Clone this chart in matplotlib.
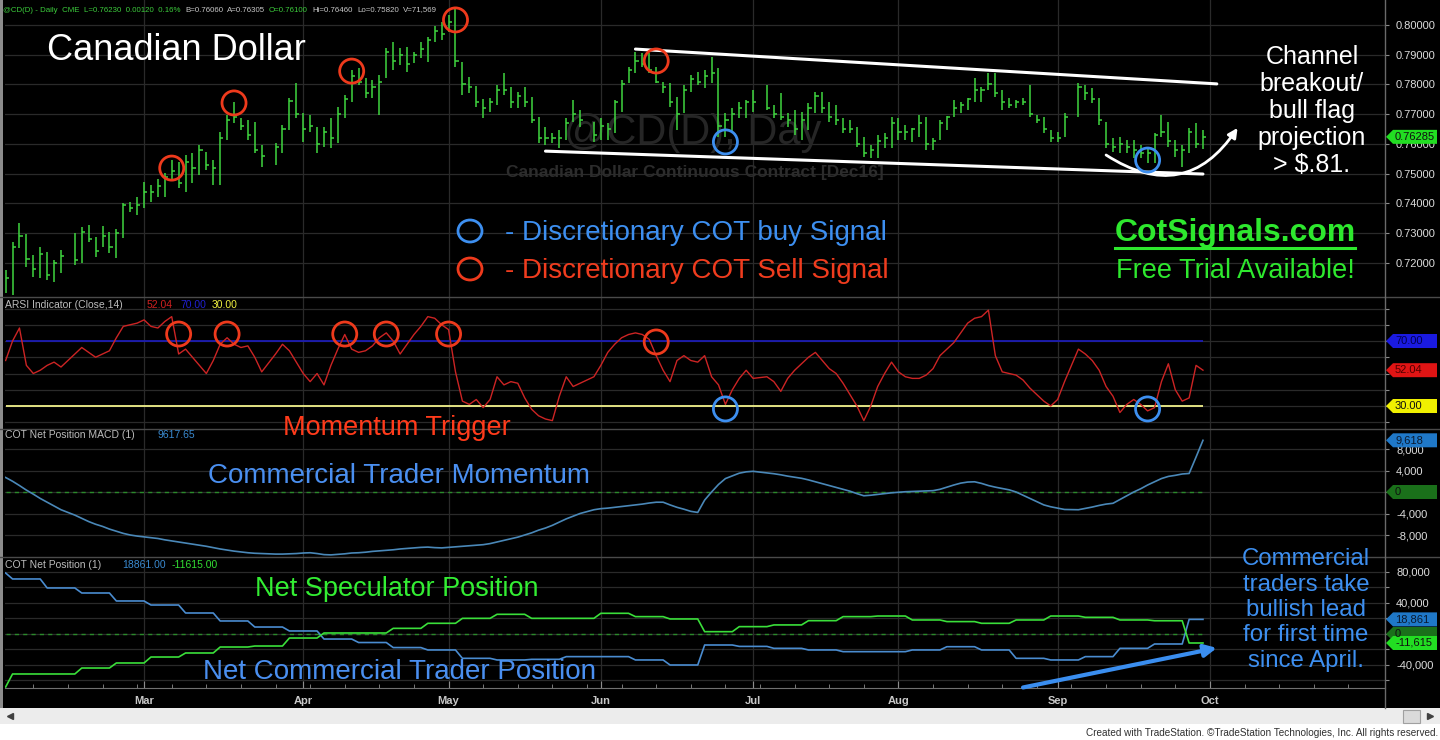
import numpy as np
import pandas as pd
import matplotlib
matplotlib.use('Agg')
import matplotlib.pyplot as plt
from matplotlib import font_manager
from matplotlib.patches import FancyArrowPatch, Rectangle, Ellipse, Polygon
from matplotlib.ticker import FuncFormatter

plt.rcParams['font.family'] = ['Liberation Sans', 'DejaVu Sans']
installed = {f.name for f in font_manager.fontManager.ttflist}
NARROW = 'Liberation Sans Narrow' if 'Liberation Sans Narrow' in installed else 'Liberation Sans'

# ---------------- data ----------------
holidays = ['2016-02-15', '2016-03-25', '2016-05-30', '2016-07-04', '2016-09-05']
month_labels = ['Mar', 'Apr', 'May', 'Jun', 'Jul', 'Aug', 'Sep', 'Oct']
month_firsts = ['2016-03-01', '2016-04-01', '2016-05-02', '2016-06-01',
                '2016-07-01', '2016-08-01', '2016-09-01', '2016-10-03']

# daily bars, Feb 2 - Sep 30 2016 (one line per month)
high = [
    .7176, .7271, .7334, .7297, .7227, .7254, .7237, .7210, .7244, .7301, .7321, .7328, .7287, .7324, .7304, .7314, .7402, .7405, .7422,
    .7472, .7462, .7482, .7503, .7546, .7539, .7563, .7570, .7597, .7573, .7546, .7640, .7697, .7741, .7687, .7681, .7674, .7597, .7603, .7664, .7755, .7805,
    .7704, .7697, .7657, .7657, .7687, .7724, .7765, .7849, .7855, .7822, .7815, .7832, .7923, .7943, .7923, .7926, .7909, .7943, .7960, .7997, .8010,
    .8034, .8061, .7876, .7825, .7795, .7751, .7755, .7798, .7839, .7792, .7775, .7792, .7758, .7691, .7657, .7637, .7647, .7687, .7748, .7714, .7674,
    .7687, .7671, .7748, .7815, .7859, .7909, .7906, .7906, .7859, .7808, .7805, .7758, .7798, .7832, .7842, .7849, .7892, .7855, .7704, .7721, .7741, .7748,
    .7782, .7798, .7731, .7771, .7704, .7714, .7708, .7738, .7775, .7775, .7741, .7731, .7687, .7681, .7657, .7624, .7597, .7630, .7637, .7691,
    .7687, .7664, .7654, .7697, .7691, .7620, .7681, .7694, .7748, .7741, .7755, .7822, .7792, .7839, .7839, .7782, .7755, .7748, .7755, .7798, .7697, .7691, .7647,
    .7640, .7704, .7805, .7798, .7788, .7755, .7674, .7620, .7624, .7613, .7613, .7597, .7590, .7637, .7697, .7674, .7613, .7597, .7654, .7671, .7646,
]
low = [
    .7099, .7092, .7251, .7187, .7153, .7150, .7143, .7136, .7166, .7193, .7200, .7271, .7220, .7254, .7234, .7217, .7284, .7371, .7361,
    .7385, .7405, .7422, .7422, .7479, .7452, .7439, .7469, .7496, .7513, .7462, .7462, .7613, .7671, .7647, .7613, .7570, .7523, .7529, .7570, .7647, .7687,
    .7607, .7640, .7570, .7590, .7587, .7603, .7687, .7741, .7798, .7755, .7755, .7697, .7822, .7849, .7866, .7842, .7872, .7889, .7876, .7943, .7950,
    .7976, .7859, .7765, .7771, .7724, .7687, .7708, .7731, .7765, .7721, .7721, .7724, .7671, .7603, .7597, .7603, .7587, .7613, .7674, .7657, .7607,
    .7613, .7613, .7637, .7708, .7805, .7839, .7859, .7839, .7805, .7771, .7724, .7647, .7704, .7775, .7798, .7788, .7805, .7624, .7624, .7640, .7687, .7687,
    .7708, .7714, .7687, .7681, .7657, .7630, .7613, .7647, .7704, .7704, .7674, .7664, .7637, .7637, .7590, .7556, .7553, .7553, .7587, .7587,
    .7613, .7613, .7607, .7624, .7580, .7580, .7613, .7647, .7691, .7704, .7714, .7741, .7741, .7782, .7758, .7714, .7721, .7721, .7731, .7691, .7671, .7637, .7607,
    .7607, .7624, .7691, .7748, .7738, .7664, .7587, .7573, .7570, .7570, .7553, .7553, .7536, .7536, .7624, .7590, .7556, .7523, .7570, .7587, .7582,
]
close = [
    .7150, .7255, .7290, .7215, .7180, .7230, .7160, .7200, .7225, .7210, .7305, .7280, .7240, .7290, .7255, .7300, .7395, .7385, .7395,
    .7440, .7440, .7460, .7490, .7510, .7470, .7540, .7520, .7580, .7530, .7520, .7620, .7680, .7690, .7660, .7630, .7580, .7560, .7590, .7650, .7745, .7700,
    .7650, .7660, .7600, .7640, .7620, .7700, .7750, .7830, .7810, .7770, .7790, .7810, .7910, .7880, .7900, .7870, .7900, .7920, .7950, .7980, .7970,
    .8010, .7880, .7800, .7790, .7740, .7720, .7740, .7780, .7780, .7740, .7760, .7740, .7680, .7620, .7620, .7620, .7620, .7670, .7700, .7680, .7630,
    .7660, .7650, .7740, .7800, .7850, .7880, .7870, .7850, .7810, .7790, .7740, .7700, .7780, .7820, .7810, .7830, .7840, .7660, .7680, .7700, .7720, .7740,
    .7740, .7720, .7700, .7690, .7680, .7650, .7680, .7720, .7760, .7720, .7690, .7680, .7650, .7650, .7600, .7570, .7580, .7610, .7620, .7670,
    .7640, .7640, .7650, .7670, .7600, .7610, .7670, .7690, .7720, .7730, .7750, .7780, .7780, .7800, .7770, .7740, .7730, .7740, .7740, .7700, .7680, .7650, .7620,
    .7620, .7690, .7790, .7770, .7750, .7680, .7600, .7590, .7600, .7590, .7580, .7570, .7570, .7630, .7640, .7610, .7580, .7580, .7640, .7600, .7623,
]
arsi = [
    58, 70, 78, 55, 50, 52, 55, 57, 54, 62, 66, 63, 60, 62, 64, 72, 79, 80, 81,
    83, 79, 78, 82, 85, 62, 65, 60, 55, 50, 58, 68, 72, 68, 66, 67, 60, 51, 62, 68, 64, 57,
    50, 45, 50, 43, 55, 65, 74, 65, 63, 64, 67, 72, 75, 70, 62, 68, 74, 79, 85, 84, 80,
    77, 51, 33, 31, 34, 29, 34, 48, 43, 45, 44, 35, 28, 24, 22, 21, 36, 48, 42, 44, 48,
    55, 63, 68, 72, 74, 75, 74, 71, 61, 52, 45, 58, 61, 58, 57, 61, 48, 43, 31, 40, 47, 52,
    47, 48, 45, 39, 47, 52, 56, 60, 63, 58, 53, 50, 44, 37, 30, 21, 30, 42, 50, 57,
    51, 48, 47, 47, 49, 53, 61, 65, 69, 75, 81, 84, 85, 89, 61, 51, 50, 49, 46, 41, 37, 33, 30,
    34, 45, 65, 62, 58, 52, 42, 36, 26, 31, 34, 31, 27, 29, 45, 56, 40, 33, 35, 55, 52.04,
]
macd = [
    2700, 2000, 1200, 350, -400, -1200, -1900, -2600, -3300, -4300, -4900, -5500, -6000, -6400, -6900, -7300, -7700, -8000, -8200,
    -8350, -8500, -8650, -8900, -9100, -9300, -9500, -9700, -9900, -10100, -10350, -10600, -10800, -11000, -11150, -11300, -11400, -11450, -11550, -11550, -11500, -11450,
    -11350, -11300, -11450, -11650, -11700, -11600, -11500, -11350, -11300, -11200, -11050, -10950, -10850, -10750, -10600, -10500, -10400, -10300, -10250, -10350, -10400,
    -10300, -10200, -10100, -10000, -9900, -9800, -9600, -9300, -9000, -8700, -8400, -8000, -7600, -7100, -6700, -6200, -5600, -5000, -4500, -4000, -3300,
    -3100, -3000, -2850, -2700, -2550, -2400, -2250, -2050, -1900, -1900, -2400, -2850, -3200, -3600, -3800, -1500, 0, 1400, 2500, 3000, 3500, 3750,
    3850, 3550, 3400, 3200, 2950, 2750, 2550, 2250, 1900, 1550, 1200, 850, 500, 150, -300, -700, -600, -450, -300, -150,
    -50, 50, 100, 150, 200, 250, 500, 900, 1300, 1650, 1850, 1900, 1600, 1200, 900, 650, 400, 0, -600, -1200, -1800, -2400, -2750,
    -3000, -3250, -3300, -3050, -2800, -2500, -2250, -2100, -1400, -700, 0, 600, 1300, 1900, 2500, 2900, 3100, 3350, 3450, 6500, 9617.65,
]
# weekly COT net positions (new value each Wednesday)
comm_weekly = [78700, 71000, 59400, 52900, 42600, 37400, 27100, 16800, 9000, 3900, -6500, -11000,
               -17500, -20600, -31400, -33500, -32700, -29200, -29200, -33500, -40000, -14200, -16000, -18500,
               -20600, -22800, -22800, -20600, -16400, -20600, -31400, -33500, -29200, -18500, -12900, 18861]
spec_weekly = [-68400, -51600, -51600, -43900, -37400, -29700, -24500, -16800, -15500, -5200, 1300, 1300,
               7300, 13800, 20200, 25400, 20200, 20200, 26700, 22400, 19400, 3000, 9500, 11700,
               17200, 22400, 23200, 18100, 16000, 13800, 18100, 23200, 21500, 18100, 17100, -11615]

price_ticks = [0.72, 0.73, 0.74, 0.75, 0.76, 0.77, 0.78, 0.79, 0.80]
arsi_ticks = [20, 30, 40, 50, 60, 70, 80, 90]
macd_ticks = [-8000, -4000, 0, 4000, 8000]
cot_ticks = [-60000, -40000, -20000, 0, 20000, 40000, 60000, 80000]

# discretionary signals (date, level)
sell_price = [('2016-03-07', 0.7519), ('2016-03-18', 0.7738), ('2016-04-12', 0.7845),
              ('2016-05-03', 0.8017), ('2016-06-13', 0.7879)]
buy_price = [('2016-06-27', 0.7607), ('2016-09-20', 0.7546)]
sell_arsi = [('2016-03-08', 74.3), ('2016-03-17', 74.3), ('2016-04-11', 74.3),
             ('2016-04-19', 74.3), ('2016-05-02', 74.3), ('2016-06-13', 69.4)]
buy_arsi = [('2016-06-27', 28.2), ('2016-09-20', 28.2)]
channel_upper = [('2016-06-08', 0.7919), ('2016-10-04', 0.7802)]
channel_lower = [('2016-05-20', 0.7576), ('2016-09-30', 0.7499)]
flag_curve = [('2016-09-12', 0.7563), ('2016-10-07', 0.7654)]
lead_arrow = [('2016-08-25', -69000), ('2016-10-04', -18000)]

# ---------------- layout ----------------
W, H = 1440, 740
cal = pd.bdate_range('2016-02-02', '2016-10-31')
days = cal[~cal.isin(pd.to_datetime(holidays))]
days = days[days <= '2016-09-30']
x = cal.get_indexer(days)
month_pos = cal.get_indexer(pd.to_datetime(month_firsts))
monday_pos = np.where(cal.weekday == 0)[0]
week_id = pd.factorize(days.to_period('W-TUE'))[0]
comm = np.array(comm_weekly)[week_id]
spec = np.array(spec_weekly)[week_id]


def xp(d):
    return cal.get_loc(pd.Timestamp(d))


XL = (-0.09, 199.3)
BAR = '#3fd63f'
BLUE_TXT = '#3d8ff0'
GREEN_TXT = '#33ee33'

fig = plt.figure(figsize=(W / 100, H / 100), dpi=100, facecolor='black')


def panel(top, bottom, ylim, ticks):
    ax = fig.add_axes([5 / W, 1 - bottom / H, 1380 / W, (bottom - top) / H])
    ax.set_facecolor('black')
    ax.set_xlim(*XL)
    ax.set_ylim(*ylim)
    for s in ax.spines.values():
        s.set_visible(False)
    ax.set_axisbelow(True)
    ax.yaxis.tick_right()
    ax.set_yticks(ticks)
    ax.tick_params(axis='y', which='both', colors='#8c8c8c', labelcolor='#dcdcdc',
                   labelsize=8, length=3, pad=5)
    ax.tick_params(axis='x', which='both', length=0, labelbottom=False)
    ax.set_xticks(month_pos)
    ax.grid(True, color='#2a2a2a', lw=0.9)
    return ax


def rings(ax, sigs, color):
    ax.scatter([xp(d) for d, _ in sigs], [v for _, v in sigs], s=300, facecolors='none',
               edgecolors=color, linewidths=2, zorder=6, clip_on=False)


# price panel
axp = panel(0, 297, (0.70857, 0.80840), price_ticks)
axp.yaxis.set_major_formatter(FuncFormatter(lambda v, p: f'{v:.5f}'))
axp.vlines(x, low, high, color=BAR, lw=1.1, zorder=3)
axp.hlines(close, x, x + 0.45, color=BAR, lw=1.1, zorder=3)
axp.text(693 / W, 1 - 133 / H, '@CD(D), Day', transform=fig.transFigure, ha='center', va='center',
         fontsize=30, color='#262626', zorder=1)
axp.text(695 / W, 1 - 173 / H, 'Canadian Dollar Continuous Contract [Dec16]', transform=fig.transFigure,
         ha='center', va='center', fontsize=12.5, fontweight='bold', color='#2c2c2c', zorder=1)
for seg in (channel_upper, channel_lower):
    axp.plot([xp(d) for d, _ in seg], [v for _, v in seg], color='white', lw=2.2, zorder=5,
             solid_capstyle='round', clip_on=False)
curve = FancyArrowPatch((xp(flag_curve[0][0]), flag_curve[0][1]), (xp(flag_curve[1][0]), flag_curve[1][1]),
                        connectionstyle='arc3,rad=0.49', arrowstyle='-|>', mutation_scale=14,
                        color='white', lw=2, shrinkA=0, shrinkB=0, zorder=5, clip_on=False)
axp.add_patch(curve)
rings(axp, sell_price, '#ee3a1c')
rings(axp, buy_price, '#3d8ff0')

# ARSI panel
axr = panel(297, 429, (15.85, 97.08), arsi_ticks)
axr.tick_params(axis='y', labelright=False)
axr.hlines(70, x[0], x[-1], color='#1c1cb4', lw=1.3, zorder=3)
axr.hlines(30, x[0], x[-1], color='#f2f28c', lw=1.3, zorder=3)
axr.plot(x, arsi, color='#cc2424', lw=1, zorder=4)
rings(axr, sell_arsi, '#ee3a1c')
rings(axr, buy_arsi, '#3d8ff0')

# MACD panel
axm = panel(429, 557, (-12093, 11721), macd_ticks)
axm.yaxis.set_major_formatter(FuncFormatter(lambda v, p: f'{v:,.0f}'))
axm.plot([x[0], x[-1]], [0, 0], color='#2a8a2a', lw=1, ls=(0, (3, 3)), zorder=3)
axm.plot(x, macd, color='#4a88b8', lw=1.2, zorder=4)

# COT panel
axc = panel(557, 688, (-69680, 99350), cot_ticks)
axc.yaxis.set_major_formatter(FuncFormatter(lambda v, p: f'{v:,.0f}' if v % 40000 == 0 else ''))
axc.plot([x[0], x[-1]], [0, 0], color='#2a8a2a', lw=1, ls=(0, (3, 3)), zorder=3)
axc.plot(x, comm, color='#4a8cd0', lw=1.2, zorder=4)
axc.plot(x, spec, color='#3adf3a', lw=1.2, zorder=4)
axc.spines['bottom'].set_visible(True)
axc.spines['bottom'].set_color('#707070')
axc.set_xticks(monday_pos, minor=True)
axc.set_xticklabels(month_labels, fontweight='bold')
axc.tick_params(axis='x', which='major', labelbottom=True, labelcolor='#c8c8c8', labelsize=8,
                length=5, direction='in', color='#8c8c8c', pad=6)
axc.tick_params(axis='x', which='minor', length=3, direction='in', color='#8c8c8c')
lead = FancyArrowPatch((xp(lead_arrow[0][0]), lead_arrow[0][1]), (xp(lead_arrow[1][0]), lead_arrow[1][1]),
                       arrowstyle='-|>', mutation_scale=18, color='#3a8ef0', lw=3,
                       shrinkA=0, shrinkB=0, zorder=6, clip_on=False)
axc.add_patch(lead)

# ---------------- overlay (chrome and captions, pixel coords) ----------------
ov = fig.add_axes([0, 0, 1, 1], zorder=10)
ov.set_xlim(0, W)
ov.set_ylim(H, 0)
ov.axis('off')
ov.patch.set_alpha(0)

for yy in (297, 429, 557):
    ov.plot([0, W], [yy, yy], color='#4a4a4a', lw=1)
ov.plot([1385, 1385], [0, 708], color='#6a6a6a', lw=1)
ov.add_patch(Rectangle((0, 0), 3, 708, fc='#8c8c8c', ec='none'))
ov.add_patch(Rectangle((0, 708), W, 16, fc='#ececec', ec='none'))
ov.add_patch(Rectangle((0, 724), W, 16, fc='white', ec='none'))
ov.add_patch(Rectangle((1403, 710), 17, 13, fc='#dadada', ec='#a0a0a0', lw=0.8))
ov.plot(10, 716, marker='<', ms=4, color='#404040')
ov.plot(1430, 716, marker='>', ms=4, color='#404040')
ov.text(1438, 733, 'Created with TradeStation. \u00a9TradeStation Technologies, Inc. All rights reserved.',
        ha='right', va='center', fontsize=7.2, color='#303030')


def tag(ax, val, label, fc, tc='#101010'):
    # value marker on the right scale, placed at the value through the panel's own scale
    y = H - ax.transData.transform((0, val))[1]
    ov.add_patch(Polygon([(1386, y), (1393, y - 7), (1437, y - 7), (1437, y + 7), (1393, y + 7)],
                         closed=True, fc=fc, ec='none', zorder=5))
    ov.text(1395, y, label, ha='left', va='center', fontsize=8, color=tc, zorder=6)


tag(axp, 0.7624, '0.76285', '#22dd22')
tag(axr, 70, '70.00', '#1a1ae0', '#000050')
tag(axr, 52.04, '52.04', '#e01414', '#500000')
tag(axr, 30, '30.00', '#f0f000')
tag(axm, 0, '0', '#1a701a')
tag(axm, 9617.65, '9,618', '#1f78c8', '#0a1a30')
tag(axc, 0, '0', '#1a701a')
tag(axc, 18861, '18,861', '#1f78c8', '#0a1a30')
tag(axc, -11615, '-11,615', '#22dd22')

hdr = [(3, '@CD(D) - Daily  CME  L=0.76230  0.00120  0.16%', '#3ccc3c'),
       (185, 'B=0.76060', '#c8c8c8'), (227, 'A=0.76305', '#c8c8c8'), (269, 'O=0.76100', '#3ccc3c'),
       (312, 'Hi=0.76460', '#c8c8c8'), (357, 'Lo=0.75820', '#c8c8c8'), (403, 'V=71,569', '#c8c8c8')]
hdr_size = 7 if NARROW != 'Liberation Sans' else 5.7
for hx, s, c in hdr:
    ov.text(hx, 10, s, ha='left', va='center', fontsize=hdr_size, color=c, family=NARROW)

ov.text(5, 305, 'ARSI Indicator (Close,14)', ha='left', va='center', fontsize=7.5, color='#bcbcbc')
ov.text(147, 305, '52.04', ha='left', va='center', fontsize=7.5, color='#d02020')
ov.text(180, 305, '70.00', ha='left', va='center', fontsize=7.5, color='#2020d0')
ov.text(212, 305, '30.00', ha='left', va='center', fontsize=7.5, color='#f0f040')
ov.text(5, 435, 'COT Net Position MACD (1)', ha='left', va='center', fontsize=7.5, color='#bcbcbc')
ov.text(157, 435, '9617.65', ha='left', va='center', fontsize=7.5, color='#3a8ad0')
ov.text(5, 565, 'COT Net Position (1)', ha='left', va='center', fontsize=7.5, color='#bcbcbc')
ov.text(122, 565, '18861.00', ha='left', va='center', fontsize=7.5, color='#3a8ad0')
ov.text(172, 565, '-11615.00', ha='left', va='center', fontsize=7.5, color='#33dd33')

ov.text(47, 50, 'Canadian Dollar', ha='left', va='center', fontsize=26, color='white')
ov.add_patch(Ellipse((470, 231), 24, 22, fc='none', ec='#3d8ff0', lw=2))
ov.add_patch(Ellipse((470, 269), 24, 22, fc='none', ec='#ee3a1c', lw=2))
ov.text(505, 233, '- Discretionary COT buy Signal', ha='left', va='center', fontsize=20, color=BLUE_TXT)
ov.text(505, 271, '- Discretionary COT Sell Signal', ha='left', va='center', fontsize=20, color='#f03c1e')
ov.text(1235, 233, 'CotSignals.com', ha='center', va='center', fontsize=23, fontweight='bold', color='#2ee82e')
ov.plot([1115, 1355], [248, 248], color='#2ee82e', lw=2.2)
ov.text(1235, 271, 'Free Trial Available!', ha='center', va='center', fontsize=19.5, color='#2ee82e')
ov.text(1312, 111, 'Channel\nbreakout/\nbull flag\nprojection\n> $.81.', ha='center', va='center',
        fontsize=18, color='white', linespacing=1.17)
ov.text(283, 428, 'Momentum Trigger', ha='left', va='center', fontsize=19.5, color='#ff3b1b')
ov.text(208, 476, 'Commercial Trader Momentum', ha='left', va='center', fontsize=20, color='#4a8ff0')
ov.text(255, 589, 'Net Speculator Position', ha='left', va='center', fontsize=19.5, color=GREEN_TXT)
ov.text(203, 672, 'Net Commercial Trader Position', ha='left', va='center', fontsize=20, color='#4a8ff0')
ov.text(1306, 610, 'Commercial\ntraders take\nbullish lead\nfor first time\nsince April.', ha='center',
        va='center', fontsize=17.3, color=BLUE_TXT, linespacing=1.2)

fig.savefig('out.png', dpi=100, facecolor='black')
